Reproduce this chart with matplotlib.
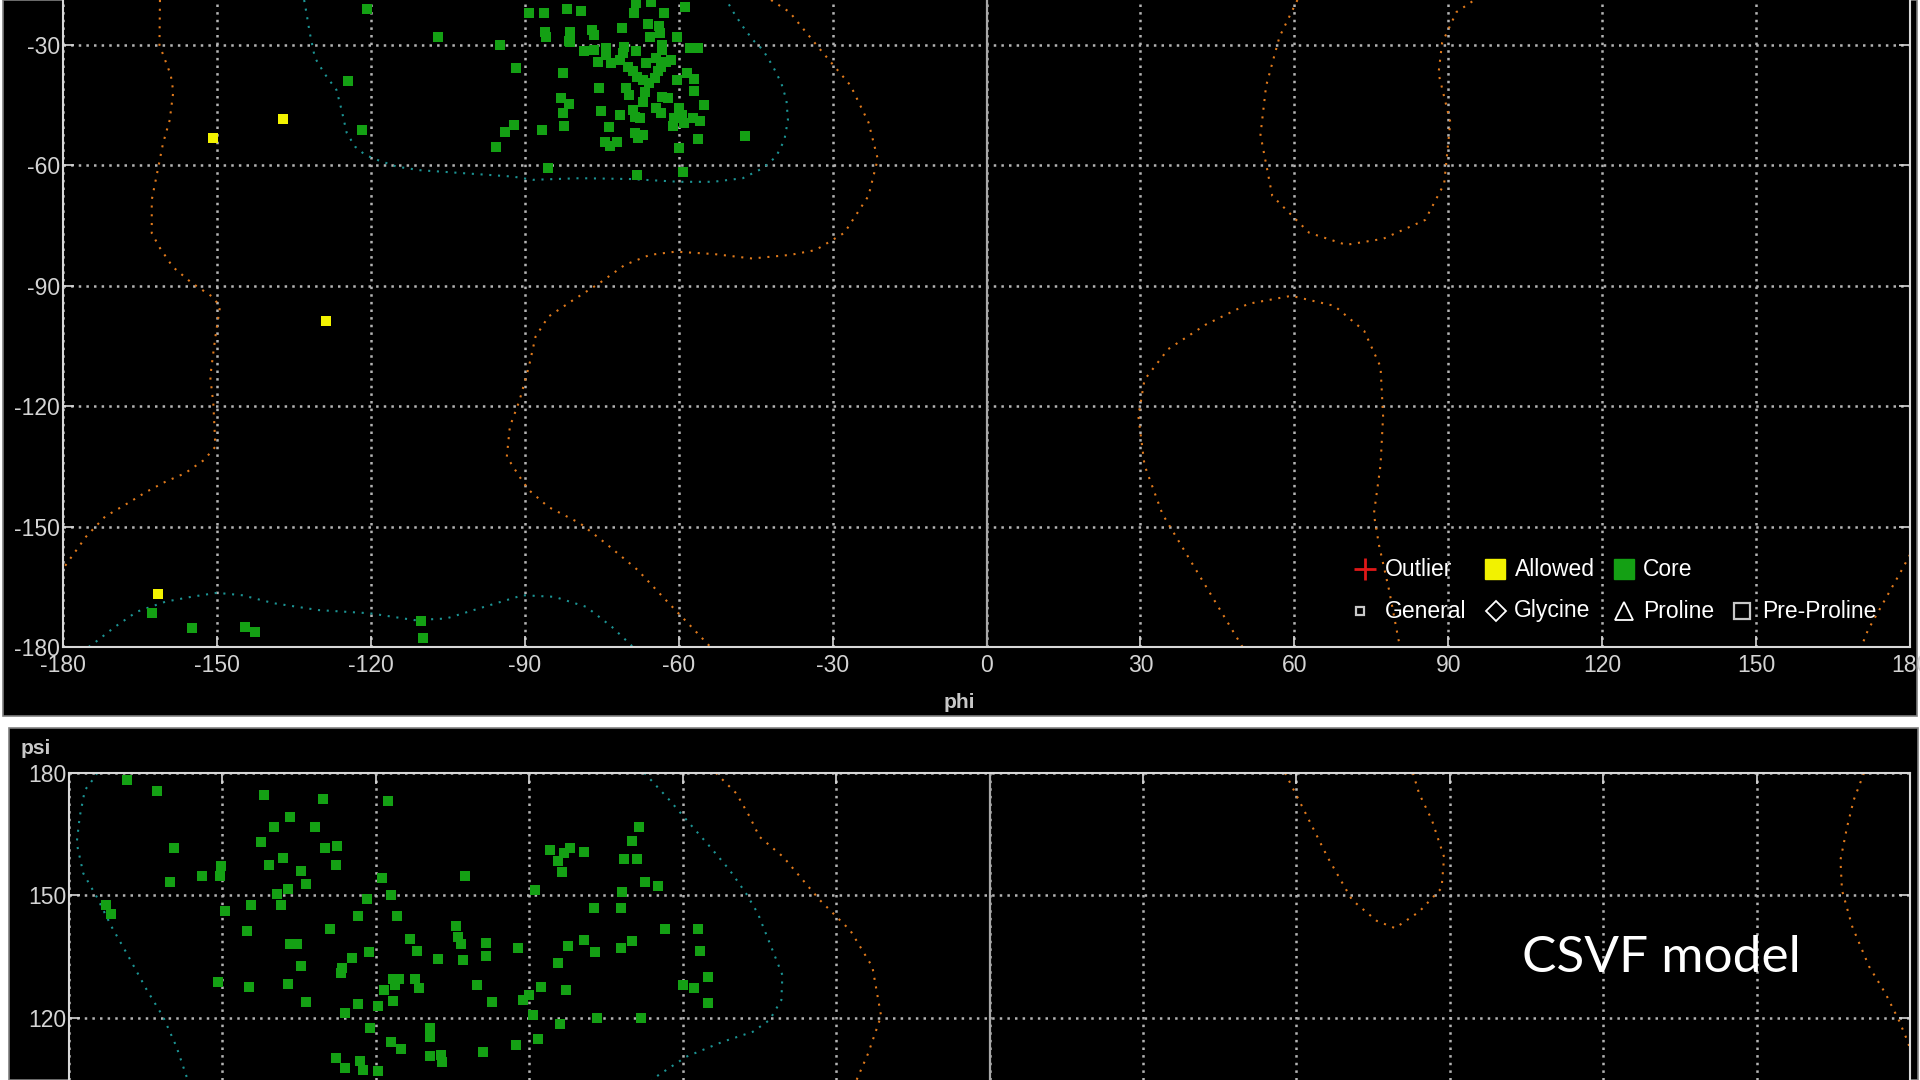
import numpy as np
import matplotlib
matplotlib.use('Agg')
import matplotlib.pyplot as plt
from matplotlib.patches import Rectangle
from matplotlib.lines import Line2D

plt.rcParams['font.family'] = ['Liberation Sans', 'DejaVu Sans']
plt.rcParams['axes.unicode_minus'] = False  # plain hyphen like the viewer

##---------------------------------------------------------------------------------
## data (phi, psi) in degrees
##---------------------------------------------------------------------------------

# top panel (psi -180 .. about -19 visible)
top_core = [(-120.8, -21.0), (-106.9, -28.1), (-94.8, -30.0), (-89.2, -22.0), (-86.2, -22.0),
            (-86.1, -26.7), (-85.9, -27.9), (-124.5, -38.9), (-121.7, -51.3), (-91.7, -35.7),
            (-92.1, -49.9), (-93.9, -51.7), (-95.7, -55.5), (-86.6, -51.3), (-85.5, -60.7),
            (-81.8, -21.0), (-79.1, -21.5), (-68.4, -19.6), (-65.3, -19.2), (-68.8, -22.0),
            (-62.9, -22.0), (-58.8, -20.5), (-81.1, -26.7), (-81.4, -28.9), (-76.9, -26.3),
            (-76.5, -27.5), (-71.0, -25.8), (-66.0, -24.8), (-63.8, -25.4), (-63.7, -26.9),
            (-65.5, -27.9), (-60.3, -28.1), (-78.4, -31.4), (-76.5, -31.2), (-74.2, -30.8),
            (-70.7, -30.4), (-68.4, -31.4), (-63.2, -30.0), (-63.2, -31.2), (-57.7, -30.8),
            (-56.2, -30.8), (-75.7, -34.2), (-74.1, -32.5), (-73.1, -34.6), (-71.5, -33.7),
            (-69.9, -35.4), (-68.9, -36.6), (-68.2, -37.9), (-67.0, -38.7), (-65.7, -39.5),
            (-64.7, -38.3), (-64.0, -36.6), (-63.4, -35.4), (-62.4, -34.2), (-61.4, -33.7),
            (-66.3, -34.6), (-64.4, -33.3), (-70.8, -32.1), (-82.5, -37.1), (-75.6, -40.8),
            (-70.2, -40.8), (-69.6, -42.5), (-66.5, -41.6), (-63.3, -42.9), (-62.1, -43.3),
            (-60.3, -38.7), (-58.4, -37.1), (-57.0, -38.5), (-57.0, -41.4), (-55.1, -45.0),
            (-82.9, -43.1), (-81.4, -44.7), (-82.5, -47.0), (-82.4, -50.2), (-67.0, -44.1),
            (-64.5, -45.8), (-63.4, -47.0), (-68.9, -46.2), (-68.6, -47.9), (-67.6, -48.3),
            (-75.1, -46.4), (-71.5, -47.4), (-60.0, -45.8), (-59.3, -47.4), (-60.9, -48.3),
            (-61.1, -50.2), (-59.0, -49.5), (-57.2, -48.3), (-55.9, -48.9), (-73.6, -50.4),
            (-74.4, -54.1), (-73.3, -55.3), (-72.1, -54.1), (-68.6, -52.0), (-68.0, -53.2),
            (-67.0, -52.4), (-60.0, -55.7), (-56.2, -53.5), (-47.0, -52.7), (-68.1, -62.4),
            (-59.2, -61.6), (-81.2, -29.2),
            (-162.7, -171.5), (-154.9, -175.3), (-144.5, -175.0), (-142.6, -176.3),
            (-110.3, -173.5), (-109.9, -177.7)]
top_allowed = [(-150.8, -53.2), (-137.1, -48.4), (-128.8, -98.8), (-161.5, -166.8)]

# contour lines, top panel
top_orange_left = [(-161.1, -18.8), (-161.2, -30), (-159.0, -37.5), (-158.5, -41.6), (-159.2, -48.7),
                   (-160.5, -54.5), (-161.4, -60.3), (-162.7, -68.6), (-162.7, -76.9), (-161.1, -80.6),
                   (-158.6, -85.3), (-154.9, -89.3), (-150.8, -92.8), (-149.4, -95.2), (-150.3, -102.7),
                   (-151.3, -112.7), (-150.7, -119.3), (-150.3, -130.1), (-152.5, -133.4), (-156.2, -136.7),
                   (-160, -138.8), (-163.7, -141.3), (-167.4, -144.2), (-171.8, -147.5), (-175.5, -152.5),
                   (-180, -160.5)]
top_orange_mid = [(-42, -18.8), (-38.4, -21.8), (-32.5, -31), (-26.5, -40.1), (-23, -49.3), (-21.2, -58.4),
                  (-23, -67.6), (-27.7, -76.8), (-33.3, -81.1), (-38.2, -82.3), (-45.7, -83.2), (-53.1, -82.1),
                  (-60.6, -81.5), (-65.6, -82.3), (-70.5, -84.8), (-75.5, -89.4), (-80.5, -93.5), (-85.4, -97.7),
                  (-87.9, -102.7), (-89.2, -110.2), (-91, -118.5), (-92.9, -125.1), (-93.5, -132.6), (-91, -137.6),
                  (-89.2, -140.9), (-85.4, -145.1), (-79.2, -149.2), (-74.2, -154.2), (-68, -160.8),
                  (-63.1, -167.5), (-57.5, -175), (-53.8, -180)]
top_orange_ur = [(60.6, -18.8), (57.1, -28), (54.5, -40.2), (53.4, -52.4), (55.7, -67.6), (62.9, -76.8),
                 (70.1, -79.8), (77.3, -78.3), (85.5, -73.6), (89.2, -64.6), (90.4, -49.2), (88.1, -37.1),
                 (88.8, -29.5), (91.6, -21.8), (95.1, -18.8)]
top_orange_lr = [(49.9, -180), (41.5, -162.2), (34.3, -146.9), (30.8, -134.7), (29.6, -122.5), (30.8, -113.4),
                 (35.4, -105.8), (42.7, -99.7), (51.0, -94.5), (59.4, -92.5), (67.8, -95), (73.6, -101.2),
                 (76.8, -110.2), (77.3, -122.5), (76.8, -134.7), (75.5, -146.9), (76.5, -154.6), (78.5, -166),
                 (80.2, -177.5), (80.6, -180)]
top_orange_edge = [(180, -157), (178.4, -160.8), (175, -168.5), (171.8, -175.8), (170.5, -180)]
top_teal_alpha = [(-133, -18.8), (-132.7, -20.9), (-131.9, -27), (-130.9, -33.2), (-129, -37.2), (-126.7, -41.2),
                  (-125.7, -46.2), (-124.7, -51.9), (-123.1, -55.3), (-121.1, -57.4), (-118.6, -58.7),
                  (-115, -60.3), (-110.5, -61.2), (-105.9, -61.6), (-101.4, -62), (-96.8, -62.4), (-92.3, -62.8),
                  (-88.4, -63.6), (-79.3, -63.2), (-69.5, -63.4), (-59.8, -64.1), (-53.3, -64.1), (-47.5, -63.2),
                  (-43.6, -60.7), (-41, -57.8), (-39.4, -53.7), (-38.7, -48.7), (-39, -43.7), (-40, -39.5),
                  (-41.6, -35.4), (-43.6, -31.2), (-45.5, -28.8), (-47.5, -25.4), (-49.4, -21.7), (-50.7, -18.8)]
top_teal_beta = [(-175, -180), (-173.6, -178.7), (-169.9, -175), (-165.6, -171.2), (-160, -168.7), (-155, -167.5),
                 (-150, -166.5), (-145.1, -167.1), (-138.9, -169.1), (-130.2, -170.8), (-120.2, -171.6),
                 (-111.5, -173.3), (-105.3, -172.9), (-97.9, -170), (-90.4, -167.1), (-84.2, -167.5),
                 (-78, -170), (-73, -175), (-69.3, -179.5), (-69, -180)]

# bottom panel (psi about 105 .. 180 visible)
bot_core = [(-168.7, 178.3), (-162.7, 175.6), (-159.5, 161.7), (-160.3, 153.3), (-154.0, 154.7), (-150.4, 154.7),
            (-150.2, 157.1), (-172.8, 147.7), (-171.8, 145.5), (-149.4, 146.3), (-144.5, 147.7), (-141.9, 174.7),
            (-136.8, 169.1), (-140.0, 166.7), (-142.5, 163.1), (-138.2, 159.3), (-140.8, 157.5), (-134.7, 156.1),
            (-133.6, 152.8), (-137.2, 151.5), (-139.3, 150.4), (-138.6, 147.7), (-130.3, 173.6), (-131.9, 166.7),
            (-129.9, 161.7), (-127.5, 162.0), (-127.8, 157.5), (-117.7, 173.2), (-118.8, 154.2), (-117.1, 150.1),
            (-121.7, 149.1), (-123.5, 145.0), (-115.8, 145.0), (-145.1, 141.2), (-128.9, 141.7), (-136.8, 138.0),
            (-135.4, 138.0), (-134.7, 132.8), (-124.6, 134.7), (-121.4, 136.1), (-126.7, 132.2), (-126.9, 131.0),
            (-150.8, 128.7), (-144.8, 127.7), (-137.2, 128.3), (-133.6, 124.0), (-126.1, 121.2), (-123.5, 123.4),
            (-119.6, 123.0), (-118.4, 126.9), (-116.6, 129.6), (-116.3, 128.1), (-116.6, 124.2), (-121.2, 117.5),
            (-117.1, 114.2), (-127.8, 110.1), (-126.1, 107.7), (-123.1, 109.5), (-122.5, 107.3), (-119.6, 106.9),
            (-102.6, 154.7), (-104.4, 142.6), (-103.9, 139.9), (-103.4, 138.0), (-113.4, 139.3), (-111.9, 136.5),
            (-107.8, 134.4), (-103.0, 134.2), (-98.4, 138.4), (-98.4, 135.2), (-92.2, 137.1), (-115.5, 129.6),
            (-112.4, 129.6), (-111.5, 127.3), (-100.2, 128.1), (-97.2, 124.0), (-91.2, 124.4), (-90.1, 125.5),
            (-89.3, 120.7), (-87.8, 127.7), (-88.9, 151.3), (-86.0, 161.1), (-84.4, 158.5), (-83.3, 160.3),
            (-82.1, 161.7), (-79.2, 160.7), (-83.6, 155.7), (-77.4, 146.9), (-82.4, 137.6), (-79.2, 139.1),
            (-77.1, 136.1), (-84.3, 133.4), (-82.9, 126.9), (-84.0, 118.5), (-88.2, 114.9), (-92.5, 113.4),
            (-76.7, 119.9), (-72.0, 146.9), (-71.8, 150.9), (-72.0, 137.1), (-69.9, 138.9), (-71.4, 158.9),
            (-68.9, 158.9), (-69.9, 163.4), (-68.6, 166.7), (-67.3, 153.3), (-64.9, 152.3), (-63.5, 141.7),
            (-68.1, 119.9), (-60.0, 128.1), (-57.7, 127.3), (-57.0, 141.7), (-56.7, 136.5), (-55.1, 130.1),
            (-55.1, 123.6), (-109.5, 117.5), (-109.5, 115.4), (-115.1, 112.4), (-109.5, 110.7), (-107.3, 110.9),
            (-107.1, 109.3), (-99.1, 111.6)]

bot_teal_left = [(-174.5, 180), (-174.9, 179.1), (-176.9, 175.8), (-177.9, 169.3), (-178.5, 162.8), (-177.2, 155.4),
                 (-174.6, 149.7), (-171.7, 142.4), (-168.7, 135.8), (-164.8, 126.9), (-161.6, 120.3), (-159, 113),
                 (-157, 105.6), (-156.5, 104)]
bot_teal_right = [(-67.5, 180), (-67.1, 179.5), (-62.6, 173.4), (-58.7, 167.7), (-54.7, 162), (-50.8, 156.2),
                  (-47.6, 150.5), (-45.3, 145.6), (-43, 138.4), (-40.5, 130.5), (-40.7, 124.4), (-43, 119.5),
                  (-46.3, 116.6), (-52.1, 114.2), (-59.3, 110.5), (-65.2, 105.6), (-66.5, 104)]
bot_orange_a = [(-53.5, 180), (-49.5, 175), (-46.9, 169.3), (-45, 164.4), (-40.3, 159.4), (-33.2, 148.9),
                (-27.2, 141.4), (-22.9, 132.5), (-21.2, 120.5), (-23.7, 111.4), (-26, 104.8), (-26.5, 103)]
bot_orange_b = [(57.8, 180), (61.3, 171.4), (66.1, 159.4), (70.9, 148.9), (75.7, 143.8), (79.3, 142), (84, 146),
                (88.4, 151.8), (88.9, 159.4), (86.5, 168.5), (84, 175), (82.8, 180)]
bot_orange_c = [(171, 180), (169, 173.4), (167.7, 166.8), (166.4, 158.7), (166.7, 151.3), (168.7, 142.4),
                (172, 132.6), (175.2, 126), (177.8, 119.5), (179.7, 113.8), (180, 112)]

ticks_phi = list(range(-180, 181, 30))

GREEN = '#14a014'
YELLOW = '#f2f200'
ORANGE = '#e07a1c'
TEAL = '#1c9494'
GRID = '#b4b4b4'
SPINE = '#d8d8d8'
LABEL = '#d4d4d4'


def fx(px):
    return px / 1920.0


def fy(py):
    return 1 - py / 1080.0


def style_axes(ax, yticks, hide):
    ax.set_facecolor('black')
    ax.set_xlim(-180, 180)
    ax.set_xticks(ticks_phi)
    ax.set_yticks(yticks)
    ax.grid(True, color=GRID, linestyle=(0, (1, 2.05)), linewidth=1.8)
    ax.set_axisbelow(True)
    for name, sp in ax.spines.items():
        sp.set_color(SPINE)
        sp.set_linewidth(1.5)
    ax.spines[hide].set_visible(False)
    ax.axvline(0, color='#a8a8a8', lw=1.6, zorder=1)
    ax.tick_params(axis='both', direction='in', length=8, width=1.2, color=SPINE,
                   labelcolor=LABEL, labelsize=16.5)
    ax.tick_params(axis='y', left=True, right=True, pad=2)


def draw_line(ax, pts, color):
    a = np.array(pts)
    ax.plot(a[:, 0], a[:, 1], color=color, linestyle=(0, (1, 3.2)), linewidth=1.5, zorder=2)


def draw_pts(ax, pts, color):
    a = np.array(pts)
    ax.scatter(a[:, 0], a[:, 1], marker='s', s=44, color=color, linewidths=0, zorder=3)


fig = plt.figure(figsize=(19.2, 10.8), dpi=100, facecolor='white')

# black screenshot panels, kept behind the axes
fig.patches.append(Rectangle((fx(3), fy(716)), fx(1917 - 3), 716 / 1080.0, transform=fig.transFigure,
                             facecolor='black', edgecolor='#808080', lw=1.2, zorder=-5))
fig.patches.append(Rectangle((fx(9), 0), fx(1918 - 9), (1080 - 728) / 1080.0, transform=fig.transFigure,
                             facecolor='black', edgecolor='#808080', lw=1.2, zorder=-5))

#------------- top panel -------------------------
ax1 = fig.add_axes([fx(63), fy(647), fx(1910 - 63), 647 / 1080.0])
style_axes(ax1, list(range(-180, -29, 30)), 'top')
ax1.set_ylim(-180, -18.8)
ax1.tick_params(axis='x', bottom=True, top=False, pad=5)

for line in [top_orange_left, top_orange_mid, top_orange_ur, top_orange_lr, top_orange_edge]:
    draw_line(ax1, line, ORANGE)
for line in [top_teal_alpha, top_teal_beta]:
    draw_line(ax1, line, TEAL)
draw_pts(ax1, top_core, GREEN)
draw_pts(ax1, top_allowed, YELLOW)

fig.text(fx(959), fy(702), 'phi', ha='center', va='center', fontsize=15,
         fontweight='bold', color='#c8c8c8')

# legend, drawn by hand like the original viewer
leg_font = 16.5
row1 = fy(569)
row2 = fy(611)
fig.add_artist(Line2D([fx(1365)], [row1], marker='+', ms=16, mew=2, color='#e01818', transform=fig.transFigure))
fig.text(fx(1385), row1, 'Outlier', fontsize=leg_font, color='white', va='center')
fig.add_artist(Line2D([fx(1495)], [row1], marker='s', ms=14, color=YELLOW, mec=YELLOW, transform=fig.transFigure))
fig.text(fx(1515), row1, 'Allowed', fontsize=leg_font, color='white', va='center')
fig.add_artist(Line2D([fx(1624)], [row1], marker='s', ms=14, color=GREEN, mec=GREEN, transform=fig.transFigure))
fig.text(fx(1643), row1, 'Core', fontsize=leg_font, color='white', va='center')

fig.add_artist(Line2D([fx(1360)], [row2], marker='s', ms=6, mfc='none', mec='#c8c8c8', mew=1.6,
                      transform=fig.transFigure))
fig.text(fx(1385), row2, 'General', fontsize=leg_font, color='white', va='center')
fig.add_artist(Line2D([fx(1496)], [row2], marker='D', ms=10, mfc='none', mec='white', mew=1.3,
                      transform=fig.transFigure))
fig.text(fx(1514), row2, 'Glycine', fontsize=leg_font, color='white', va='center')
fig.add_artist(Line2D([fx(1624)], [row2], marker='^', ms=13, mfc='none', mec='white', mew=1.3,
                      transform=fig.transFigure))
fig.text(fx(1643), row2, 'Proline', fontsize=leg_font, color='white', va='center')
fig.add_artist(Line2D([fx(1742)], [row2], marker='s', ms=11, mfc='none', mec='#c8c8c8', mew=1.6,
                      transform=fig.transFigure))
fig.text(fx(1762), row2, 'Pre-Proline', fontsize=leg_font, color='white', va='center')

#------------- bottom panel ----------------------
ax2 = fig.add_axes([fx(69), 0, fx(1910 - 69), (1080 - 773) / 1080.0])
style_axes(ax2, [120, 150, 180], 'bottom')
ax2.set_ylim(104.8, 180)
ax2.tick_params(axis='x', bottom=False, top=True, labelbottom=False, labeltop=False)

for line in [bot_orange_a, bot_orange_b, bot_orange_c]:
    draw_line(ax2, line, ORANGE)
for line in [bot_teal_left, bot_teal_right]:
    draw_line(ax2, line, TEAL)
draw_pts(ax2, bot_core, GREEN)

fig.text(fx(36), fy(749), 'psi', ha='center', va='center', fontsize=15,
         fontweight='bold', color='#c8c8c8')
fig.text(fx(1522), fy(972), 'CSVF model', fontsize=37, color='white', va='baseline',
         family=['Lato', 'DejaVu Sans'])

fig.savefig('out.png', dpi=100, facecolor='white')
